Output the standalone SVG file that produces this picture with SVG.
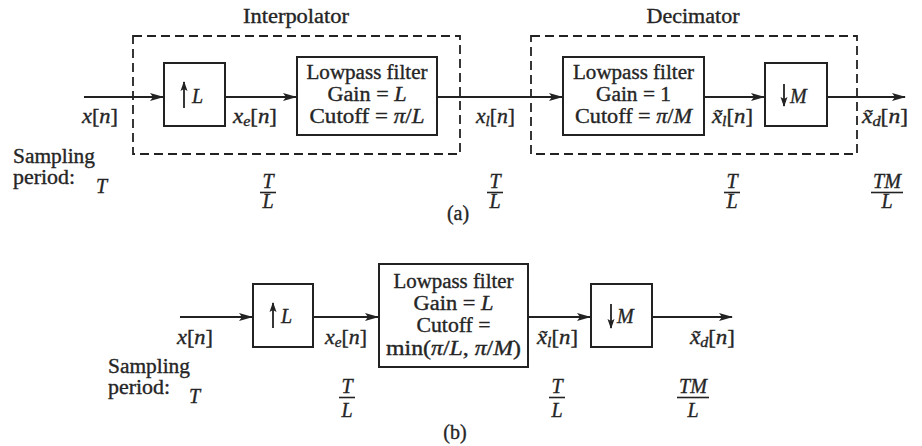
<svg xmlns="http://www.w3.org/2000/svg" width="922" height="446" viewBox="0 0 922 446" font-family="'Liberation Serif','Times New Roman',serif">
<defs>
<marker id="ah" markerUnits="userSpaceOnUse" markerWidth="14" markerHeight="8" refX="13" refY="4" orient="auto">
<path d="M0,0 L14,4 L0,8 L3,4 z" fill="#222"/>
</marker>
<marker id="ahs" markerUnits="userSpaceOnUse" markerWidth="10" markerHeight="8" refX="9" refY="4" orient="auto">
<path d="M0,0.5 L10,4 L0,7.5 L2,4 z" fill="#222"/>
</marker>
<style>
text{font-family:"Liberation Serif","Times New Roman",serif;fill:#252525;stroke:#252525;stroke-width:0.35}
.t{font-size:20px}
.lb{font-size:20px}
.m{font-style:italic}
.c{text-anchor:middle}
.blk{fill:#fff;stroke:#222;stroke-width:2}
.dash{fill:none;stroke:#222;stroke-width:1.8;stroke-dasharray:9 5}
.ln{stroke:#222;stroke-width:1.8;fill:none}
.fl{stroke:#222;stroke-width:1.6}
.sub{font-size:14px}
</style>
</defs>

<g id="interpolator-frame">
<rect class="dash" x="133" y="36" width="327" height="118"/>
<text class="t c" x="296" y="23" textLength="106" lengthAdjust="spacingAndGlyphs">Interpolator</text>
</g>
<g id="decimator-frame">
<rect class="dash" x="531" y="36" width="326" height="118"/>
<text class="t c" x="693" y="23" textLength="93" lengthAdjust="spacingAndGlyphs">Decimator</text>
</g>

<g id="connectors">
<line class="ln" x1="84" y1="97" x2="163" y2="97" marker-end="url(#ah)"/>
<line class="ln" x1="225" y1="97" x2="296" y2="97" marker-end="url(#ah)"/>
<line class="ln" x1="437" y1="97" x2="562" y2="97" marker-end="url(#ah)"/>
<line class="ln" x1="704" y1="97" x2="764" y2="97" marker-end="url(#ah)"/>
<line class="ln" x1="827" y1="97" x2="905" y2="97" marker-end="url(#ah)"/>
<line class="ln" x1="180" y1="317" x2="252" y2="317" marker-end="url(#ah)"/>
<line class="ln" x1="313" y1="317" x2="378" y2="317" marker-end="url(#ah)"/>
<line class="ln" x1="528" y1="317" x2="590" y2="317" marker-end="url(#ah)"/>
<line class="ln" x1="652" y1="317" x2="732" y2="317" marker-end="url(#ah)"/>
</g>

<g id="upsampler-a">
<rect class="blk" x="164" y="63" width="61" height="63"/>
<line class="ln" x1="184" y1="108" x2="184" y2="82" marker-end="url(#ahs)"/>
<text class="t m" x="192" y="103">L</text>
</g>
<g id="lpf-a">
<rect class="blk" x="297" y="57" width="140" height="78"/>
<text class="t c" x="367" y="79" textLength="121" lengthAdjust="spacingAndGlyphs">Lowpass filter</text>
<text class="t c" x="367" y="101" textLength="79" lengthAdjust="spacingAndGlyphs">Gain = <tspan class="m">L</tspan></text>
<text class="t c" x="367" y="123" textLength="115" lengthAdjust="spacingAndGlyphs">Cutoff = <tspan class="m">π</tspan>/<tspan class="m">L</tspan></text>
</g>
<g id="lpf-a2">
<rect class="blk" x="563" y="57" width="141" height="78"/>
<text class="t c" x="633.5" y="79" textLength="121" lengthAdjust="spacingAndGlyphs">Lowpass filter</text>
<text class="t c" x="633.5" y="101" textLength="75" lengthAdjust="spacingAndGlyphs">Gain = 1</text>
<text class="t c" x="633.5" y="123" textLength="117" lengthAdjust="spacingAndGlyphs">Cutoff = <tspan class="m">π</tspan>/<tspan class="m">M</tspan></text>
</g>
<g id="downsampler-a">
<rect class="blk" x="765" y="63" width="62" height="63"/>
<line class="ln" x1="784" y1="84" x2="784" y2="106" marker-end="url(#ahs)"/>
<text class="t m" x="790" y="103">M</text>
</g>

<g id="labels-a">
<text class="lb" x="82" y="123" textLength="36" lengthAdjust="spacingAndGlyphs"><tspan class="m">x</tspan>[<tspan class="m">n</tspan>]</text>
<text class="lb" x="233" y="123" textLength="44" lengthAdjust="spacingAndGlyphs"><tspan class="m">x</tspan><tspan class="sub m" dy="3">e</tspan><tspan dy="-3">[</tspan><tspan class="m">n</tspan>]</text>
<text class="lb" x="476" y="123" textLength="39" lengthAdjust="spacingAndGlyphs"><tspan class="m">x</tspan><tspan class="sub m" dy="3">l</tspan><tspan dy="-3">[</tspan><tspan class="m">n</tspan>]</text>
<text class="lb" x="712" y="123" textLength="41" lengthAdjust="spacingAndGlyphs"><tspan class="m">x̃</tspan><tspan class="sub m" dy="3">l</tspan><tspan dy="-3">[</tspan><tspan class="m">n</tspan>]</text>
<text class="lb" x="862" y="123" textLength="46" lengthAdjust="spacingAndGlyphs"><tspan class="m">x̃</tspan><tspan class="sub m" dy="3">d</tspan><tspan dy="-3">[</tspan><tspan class="m">n</tspan>]</text>
<text class="lb" x="13" y="163" textLength="82" lengthAdjust="spacingAndGlyphs">Sampling</text>
<text class="lb" x="13" y="184" textLength="62" lengthAdjust="spacingAndGlyphs">period:</text>
<text class="lb m" x="96" y="193">T</text>
<text class="lb m c" x="268" y="188">T</text><line class="fl" x1="260" y1="192.5" x2="276" y2="192.5"/><text class="lb m c" x="268" y="208">L</text>
<text class="lb m c" x="495" y="188">T</text><line class="fl" x1="487" y1="192.5" x2="503" y2="192.5"/><text class="lb m c" x="495" y="208">L</text>
<text class="lb m c" x="732" y="188">T</text><line class="fl" x1="724" y1="192.5" x2="740" y2="192.5"/><text class="lb m c" x="732" y="208">L</text>
<text class="lb m c" x="887" y="188">TM</text><line class="fl" x1="871" y1="192.5" x2="903" y2="192.5"/><text class="lb m c" x="887" y="208">L</text>
<text class="lb c" x="458" y="220">(a)</text>
</g>

<g id="upsampler-b">
<rect class="blk" x="253" y="284" width="60" height="63"/>
<line class="ln" x1="273" y1="328" x2="273" y2="303" marker-end="url(#ahs)"/>
<text class="t m" x="281" y="323">L</text>
</g>
<g id="lpf-b">
<rect class="blk" x="379" y="264" width="149" height="103"/>
<text class="t c" x="453.5" y="288" textLength="120" lengthAdjust="spacingAndGlyphs">Lowpass filter</text>
<text class="t c" x="453.5" y="310" textLength="80" lengthAdjust="spacingAndGlyphs">Gain = <tspan class="m">L</tspan></text>
<text class="t c" x="453.5" y="332" textLength="74" lengthAdjust="spacingAndGlyphs">Cutoff =</text>
<text class="t c" x="453.5" y="355" textLength="135" lengthAdjust="spacingAndGlyphs">min(<tspan class="m">π</tspan>/<tspan class="m">L</tspan>, <tspan class="m">π</tspan>/<tspan class="m">M</tspan>)</text>
</g>
<g id="downsampler-b">
<rect class="blk" x="591" y="284" width="61" height="63"/>
<line class="ln" x1="611" y1="304" x2="611" y2="328" marker-end="url(#ahs)"/>
<text class="t m" x="617" y="323">M</text>
</g>

<g id="labels-b">
<text class="lb" x="177" y="344" textLength="36" lengthAdjust="spacingAndGlyphs"><tspan class="m">x</tspan>[<tspan class="m">n</tspan>]</text>
<text class="lb" x="325" y="344" textLength="42" lengthAdjust="spacingAndGlyphs"><tspan class="m">x</tspan><tspan class="sub m" dy="3">e</tspan><tspan dy="-3">[</tspan><tspan class="m">n</tspan>]</text>
<text class="lb" x="537" y="344" textLength="41" lengthAdjust="spacingAndGlyphs"><tspan class="m">x̃</tspan><tspan class="sub m" dy="3">l</tspan><tspan dy="-3">[</tspan><tspan class="m">n</tspan>]</text>
<text class="lb" x="690" y="344" textLength="45" lengthAdjust="spacingAndGlyphs"><tspan class="m">x̃</tspan><tspan class="sub m" dy="3">d</tspan><tspan dy="-3">[</tspan><tspan class="m">n</tspan>]</text>
<text class="lb" x="108" y="373" textLength="82" lengthAdjust="spacingAndGlyphs">Sampling</text>
<text class="lb" x="108" y="394" textLength="62" lengthAdjust="spacingAndGlyphs">period:</text>
<text class="lb m" x="189" y="403">T</text>
<text class="lb m c" x="347" y="393">T</text><line class="fl" x1="339" y1="397.5" x2="355" y2="397.5"/><text class="lb m c" x="347" y="417">L</text>
<text class="lb m c" x="557" y="393">T</text><line class="fl" x1="549" y1="397.5" x2="565" y2="397.5"/><text class="lb m c" x="557" y="417">L</text>
<text class="lb m c" x="693" y="393">TM</text><line class="fl" x1="677" y1="397.5" x2="709" y2="397.5"/><text class="lb m c" x="693" y="417">L</text>
<text class="lb c" x="455" y="439">(b)</text>
</g>
</svg>
